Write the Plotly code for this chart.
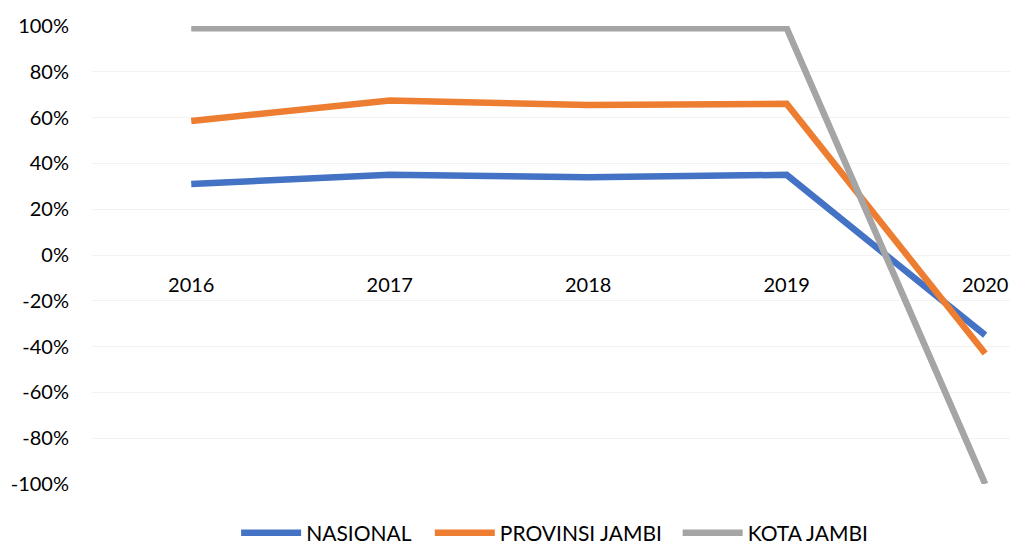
import plotly.graph_objects as go

years = ["2016", "2017", "2018", "2019", "2020"]
nasional = [0.31, 0.35, 0.34, 0.35, -0.35]
provinsi_jambi = [0.585, 0.675, 0.655, 0.66, -0.43]
kota_jambi = [0.99, 0.99, 0.99, 0.99, -1.0]

y_tick_values = [1.0, 0.8, 0.6, 0.4, 0.2, 0.0, -0.2, -0.4, -0.6, -0.8, -1.0]
y_tick_labels = ["100%", "80%", "60%", "40%", "20%", "0%", "-20%", "-40%", "-60%", "-80%", "-100%"]

series = [
    ("NASIONAL", nasional, "#4472C4", "legend", 0.157),
    ("PROVINSI JAMBI", provinsi_jambi, "#ED7D31", "legend2", 0.368),
    ("KOTA JAMBI", kota_jambi, "#A5A5A5", "legend3", 0.638),
]

font_family = "Lato, Calibri, Carlito, sans-serif"

fig = go.Figure()
legend_layout = {}
for name, vals, color, leg, lx in series:
    fig.add_trace(go.Scatter(
        x=years, y=vals, name=name, mode="lines",
        line=dict(color=color, width=6.5), legend=leg,
    ))
    legend_layout[leg] = dict(orientation="h", x=lx, xanchor="left",
                              y=-0.107, yanchor="middle",
                              font=dict(size=21, family=font_family),
                              itemwidth=60, bgcolor="rgba(0,0,0,0)")

fig.update_layout(
    width=1010, height=544,
    margin=dict(l=92, r=0, t=26, b=60, autoexpand=False),
    paper_bgcolor="white", plot_bgcolor="white",
    font=dict(family=font_family, size=20, color="#000000"),
    showlegend=True,
    xaxis=dict(
        type="category", range=[-0.5, 4.125],
        anchor="free", position=0.5, automargin=False,
        showline=False, ticks="", showgrid=False, zeroline=False,
        ticklabelstandoff=16, ticklabeloverflow="allow",
        tickfont=dict(size=20),
    ),
    yaxis=dict(
        range=[-1.0, 1.0], tickvals=y_tick_values, ticktext=y_tick_labels,
        automargin=False,
        showgrid=True, gridcolor="#F2F2F2", gridwidth=1,
        zeroline=False, showline=False, ticks="",
        ticklabelstandoff=22,
        tickfont=dict(size=20),
    ),
    **legend_layout,
)

fig.write_html("out.html", config={"displayModeBar": False},
               post_script="document.body.style.margin='0';")
